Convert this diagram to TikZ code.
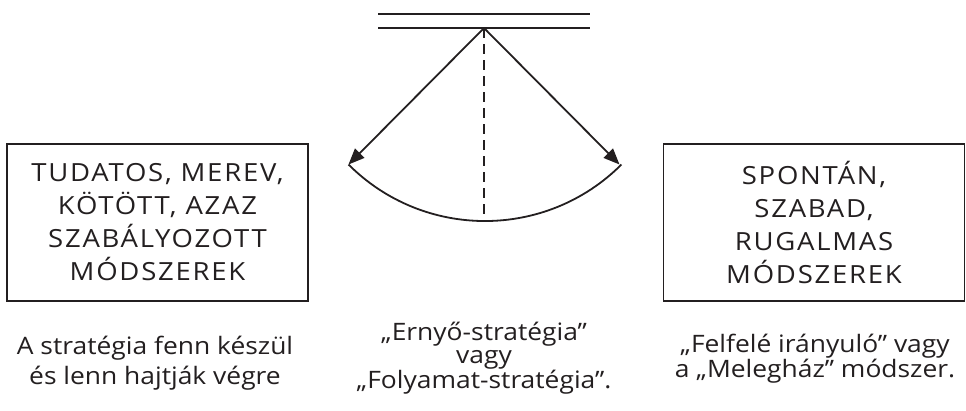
\documentclass[tikz,border=0pt]{standalone}
\usepackage{fontspec}
\setmainfont{Open Sans}[FakeStretch=1.1]
\newfontfamily\boxfont{Open Sans}[FakeStretch=1.1, LetterSpace=7]
\usetikzlibrary{arrows.meta}
\definecolor{ink}{HTML}{231F20}
\begin{document}
\begin{tikzpicture}[x=1pt,y=-1pt,
  bar/.style={draw=ink, line width=2.2pt},
  pointer/.style={draw=ink, line width=1.8pt, -{Triangle[length=16pt,width=13pt]}},
  swing/.style={draw=ink, line width=1.8pt},
  axis/.style={draw=ink, line width=1.8pt, dash pattern=on 10pt off 6pt},
  box/.style={draw=ink, line width=1.3pt, minimum width=301pt, minimum height=157pt,
    inner sep=0pt, align=center, text=ink, font=\boxfont\fontsize{25}{33}\selectfont},
  caption/.style={align=center, inner sep=0pt, text=ink}]
\useasboundingbox (0,0) rectangle (966,410);
% top bar
\coordinate (b1l) at (378,14);
\coordinate (b1r) at (590,14);
\coordinate (b2l) at (378,28);
\coordinate (b2r) at (590,28);
\draw[bar] (b1l) -- (b1r);
\draw[bar] (b2l) -- (b2r);
% pendulum
\coordinate (apex) at (484,28);
\coordinate (ltip) at (348.5,164.5);
\coordinate (rtip) at (619.5,164.5);
\coordinate (low) at (484,221);
\draw[axis] (apex) -- (low);
\draw[pointer] (apex) -- (ltip);
\draw[pointer] (apex) -- (rtip);
\draw[swing] (ltip) arc[start angle=225, end angle=315, radius=193pt];
% boxes
\node[box] (lbox) at (157.5,222.5) {TUDATOS, MEREV,\\KÖTÖTT, AZAZ\\SZABÁLYOZOTT\\MÓDSZEREK};
\node[box] (rbox) at (814,222.5) {SPONTÁN,\\SZABAD,\\RUGALMAS\\MÓDSZEREK};
% captions
\node[caption, font=\fontsize{24}{30}\selectfont] (lcap) at (155,363)
  {A stratégia fenn készül\\és lenn hajtják végre};
\node[caption, font=\fontsize{24}{23}\selectfont] (mcap) at (484,358)
  {„Ernyő-stratégia”\\vagy\\„Folyamat-stratégia”.};
\node[caption, font=\fontsize{24}{23}\selectfont] (rcap) at (815,359)
  {„Felfelé irányuló” vagy\\a „Melegház” módszer.};
\end{tikzpicture}
\end{document}
